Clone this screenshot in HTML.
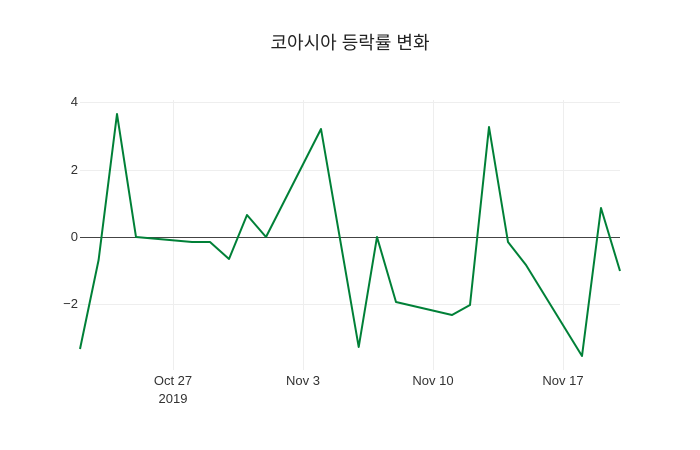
<!DOCTYPE html>
<html><head><meta charset="utf-8"><style>
body{margin:0;background:#fff;}
svg{display:block;font-family:"Liberation Sans","Noto Sans CJK KR",sans-serif;}
</style></head><body>
<svg width="700" height="450" viewBox="0 0 700 450">
<rect width="700" height="450" fill="#fff"/>
<text x="350" y="49" text-anchor="middle" font-size="18" fill="#222">코아시아 등락률 변화</text>
<g stroke="#eee" stroke-width="1">
<line x1="173.5" y1="100" x2="173.5" y2="370"/>
<line x1="303.5" y1="100" x2="303.5" y2="370"/>
<line x1="433.5" y1="100" x2="433.5" y2="370"/>
<line x1="563.5" y1="100" x2="563.5" y2="370"/>
<line x1="80" y1="102.5" x2="620" y2="102.5"/>
<line x1="80" y1="170.5" x2="620" y2="170.5"/>
<line x1="80" y1="304.5" x2="620" y2="304.5"/>
</g>
<line x1="80" y1="237.5" x2="620" y2="237.5" stroke="#444" stroke-width="1"/>
<g font-size="13" fill="#333" text-anchor="end">
<text x="78" y="106">4</text>
<text x="78" y="174">2</text>
<text x="78" y="241">0</text>
<text x="78" y="308">−2</text>
</g>
<g font-size="13" fill="#333" text-anchor="middle">
<text x="173" y="385">Oct 27</text>
<text x="173" y="403">2019</text>
<text x="303" y="385">Nov 3</text>
<text x="433" y="385">Nov 10</text>
<text x="563" y="385">Nov 17</text>
</g>
<polyline fill="none" stroke="#008037" stroke-width="2" stroke-linejoin="round" points="80,349 98.6,260 117,114 136,237 192,242 210,242 229,259 247,215 266,237 321,129 358.7,347 377,237 396,302 452,315 470,305 489,127 508,242 526,265 582,356 601,208 620,271"/>
</svg>
</body></html>
